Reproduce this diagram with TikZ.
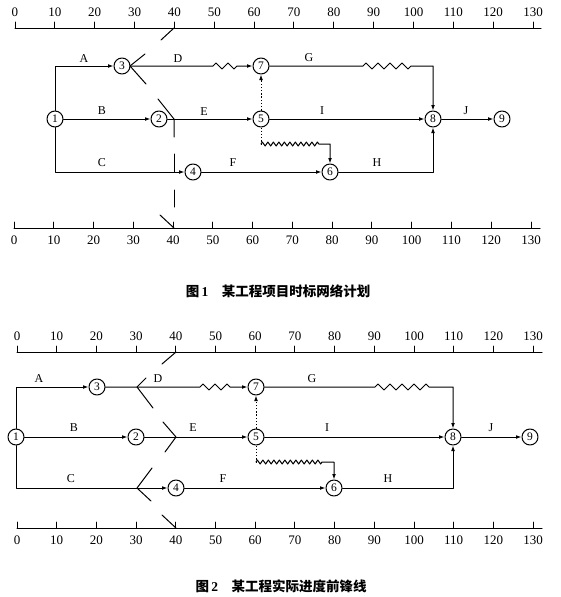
\documentclass[tikz,border=0pt]{standalone}
\usepackage{fontspec}
\setmainfont{Liberation Serif}
\newfontfamily\cjk{Noto Sans CJK SC}
\usetikzlibrary{arrows.meta,decorations.pathmorphing}

\begin{document}
\begin{tikzpicture}[x=1pt,y=-1pt,>={Latex[length=5.5pt,width=3.8pt]},line cap=round,line join=round,
  act/.style={line width=1pt},
  dum/.style={line width=1pt,line cap=butt,dash pattern=on 1.3pt off 1.9pt},
  front/.style={line width=1pt},
  evt/.style={circle,draw,line width=1pt,minimum size=16pt,inner sep=0pt,fill=white,font=\fontsize{11.5}{12}\selectfont},
  lbl/.style={inner sep=0pt,font=\fontsize{12}{13}\selectfont},
  num/.style={inner sep=0pt,font=\fontsize{13}{14}\selectfont},
  zz/.style={decoration={zigzag,amplitude=3pt,segment length=12pt}},
  wv/.style={decoration={zigzag,amplitude=2pt,segment length=5.5pt}},
  captxt/.style={inner sep=0pt,font=\bfseries\fontsize{13.5}{16}\selectfont}]
\useasboundingbox (0,0) rectangle (560,597);

% ---------- figure 1 ----------
% time axes
\draw[act] (15,28) -- (541,28);
\draw[act] (14,228) -- (540,228);
\foreach \t in {0,10,...,130}{
  \draw[act] ({15+3.985*\t},28) -- ({15+3.985*\t},22);
  \node[num] (ta\t) at ({15+3.985*\t},12) {\t};
  \draw[act] ({14+3.977*\t},228) -- ({14+3.977*\t},222);
  \node[num] (tb\t) at ({14+3.977*\t},240) {\t};
}
% events
\node[evt] (a1) at (55,119) {1};
\node[evt] (a2) at (159,119) {2};
\node[evt] (a3) at (122,66) {3};
\node[evt] (a4) at (193,172) {4};
\node[evt] (a5) at (261,119) {5};
\node[evt] (a6) at (330,172) {6};
\node[evt] (a7) at (261,66) {7};
\node[evt] (a8) at (433,119) {8};
\node[evt] (a9) at (502,119) {9};
\coordinate (ca1) at (55,66);
\coordinate (ca2) at (433,66);
\coordinate (ca3) at (55,172);
\coordinate (ca4) at (433,172);
\coordinate (zd1) at (213,66);
\coordinate (zd2) at (242,66);
\coordinate (zg1) at (363,66);
\coordinate (zg2) at (415,66);
\coordinate (wa1) at (261,144);
\coordinate (wa2) at (320,144);
\coordinate (wa3) at (330,144);
% activities
\draw[act,->] (a1) -- (ca1) -- (a3);
\draw[act,->] (a3) -- (zd1) decorate[zz]{-- (zd2)} -- (a7);
\draw[act,->] (a7) -- (zg1) decorate[zz]{-- (zg2)} -- (ca2) -- (a8);
\draw[act,->] (a1) -- (a2);
\draw[act,->] (a2) -- (a5);
\draw[act,->] (a5) -- (a8);
\draw[act,->] (a8) -- (a9);
\draw[act,->] (a1) -- (ca3) -- (a4);
\draw[act,->] (a4) -- (a6);
\draw[act,->] (a6) -- (ca4) -- (a8);
\draw[dum,->] (a5) -- (a7);
\draw[dum] (a5) -- (wa1);
\draw[act,->] (wa1) decorate[wv]{-- (wa2)} -- (wa3) -- (a6);
\node[lbl] (la) at (84,59) {A};
\node[lbl] (ld) at (178,59) {D};
\node[lbl] (lg) at (309,58) {G};
\node[lbl] (lb) at (102,111) {B};
\node[lbl] (le) at (204,112) {E};
\node[lbl] (li) at (322,111) {I};
\node[lbl] (lj) at (466,111) {J};
\node[lbl] (lc) at (102,163) {C};
\node[lbl] (lf) at (233,163) {F};
\node[lbl] (lh) at (377,163) {H};
% front line
\coordinate (fa1) at (174,28);
\coordinate (fa2) at (161,40);
\coordinate (fa3) at (145,54);
\coordinate (fa4) at (130,66);
\coordinate (fa5) at (146,84);
\coordinate (fa6) at (158,99);
\coordinate (fa7) at (174,119);
\coordinate (fa8) at (174,137);
\coordinate (fa9) at (174,154);
\coordinate (fa10) at (174,172);
\coordinate (fa11) at (174,190);
\coordinate (fa12) at (174,207);
\coordinate (fa13) at (160,215);
\coordinate (fa14) at (174,228);
\draw[front] (fa1) -- (fa2);
\draw[front] (fa3) -- (fa4) -- (fa5);
\draw[front] (fa6) -- (fa7) -- (fa8);
\draw[front] (fa9) -- (fa10);
\draw[front] (fa11) -- (fa12);
\draw[front] (fa13) -- (fa14);
\node[captxt] (cap1) at (278,291) {{\cjk 图}\,1\quad{\cjk 某工程项目时标网络计划}};

% ---------- figure 2 ----------
% time axes
\draw[act] (17,352) -- (542,352);
\draw[act] (17,528) -- (542,528);
\foreach \t in {0,10,...,130}{
  \draw[act] ({17+3.97*\t},352) -- ({17+3.97*\t},346);
  \node[num] (tc\t) at ({17+3.97*\t},336) {\t};
  \draw[act] ({17+3.97*\t},528) -- ({17+3.97*\t},522);
  \node[num] (td\t) at ({17+3.97*\t},540) {\t};
}
% events
\node[evt] (b1) at (16,437) {1};
\node[evt] (b2) at (136,437) {2};
\node[evt] (b3) at (97,387) {3};
\node[evt] (b4) at (176,488) {4};
\node[evt] (b5) at (256,437) {5};
\node[evt] (b6) at (334,488) {6};
\node[evt] (b7) at (256,387) {7};
\node[evt] (b8) at (453,437) {8};
\node[evt] (b9) at (530,437) {9};
\coordinate (cb1) at (16,387);
\coordinate (cb2) at (453,387);
\coordinate (cb3) at (16,488);
\coordinate (cb4) at (453,488);
\coordinate (ze1) at (200,387);
\coordinate (ze2) at (230,387);
\coordinate (zh1) at (375,387);
\coordinate (zh2) at (430,387);
\coordinate (wb1) at (256,462);
\coordinate (wb2) at (323,462);
\coordinate (wb3) at (334,462);
% activities
\draw[act,->] (b1) -- (cb1) -- (b3);
\draw[act,->] (b3) -- (ze1) decorate[zz]{-- (ze2)} -- (b7);
\draw[act,->] (b7) -- (zh1) decorate[zz]{-- (zh2)} -- (cb2) -- (b8);
\draw[act,->] (b1) -- (b2);
\draw[act,->] (b2) -- (b5);
\draw[act,->] (b5) -- (b8);
\draw[act,->] (b8) -- (b9);
\draw[act,->] (b1) -- (cb3) -- (b4);
\draw[act,->] (b4) -- (b6);
\draw[act,->] (b6) -- (cb4) -- (b8);
\draw[dum,->] (b5) -- (b7);
\draw[dum] (b5) -- (wb1);
\draw[act,->] (wb1) decorate[wv]{-- (wb2)} -- (wb3) -- (b6);
\node[lbl] (ma) at (39,379) {A};
\node[lbl] (md) at (158,379) {D};
\node[lbl] (mg) at (312,379) {G};
\node[lbl] (mb) at (74,428) {B};
\node[lbl] (me) at (193,428) {E};
\node[lbl] (mi) at (327,428) {I};
\node[lbl] (mj) at (491,428) {J};
\node[lbl] (mc) at (71,479) {C};
\node[lbl] (mf) at (223,479) {F};
\node[lbl] (mh) at (388,479) {H};
% front line
\coordinate (fb1) at (176,352);
\coordinate (fb2) at (162,364);
\coordinate (fb3) at (146,378);
\coordinate (fb4) at (137,387);
\coordinate (fb5) at (153,408);
\coordinate (fb6) at (163,422);
\coordinate (fb7) at (176,437);
\coordinate (fb8) at (165,452);
\coordinate (fb9) at (152,468);
\coordinate (fb10) at (137,488);
\coordinate (fb11) at (151,501);
\coordinate (fb12) at (162,515);
\coordinate (fb13) at (176,528);
\draw[front] (fb1) -- (fb2);
\draw[front] (fb3) -- (fb4) -- (fb5);
\draw[front] (fb6) -- (fb7) -- (fb8);
\draw[front] (fb9) -- (fb10) -- (fb11);
\draw[front] (fb12) -- (fb13);
\node[captxt] (cap2) at (281,586) {{\cjk 图}\,2\quad{\cjk 某工程实际进度前锋线}};
\end{tikzpicture}
\end{document}
